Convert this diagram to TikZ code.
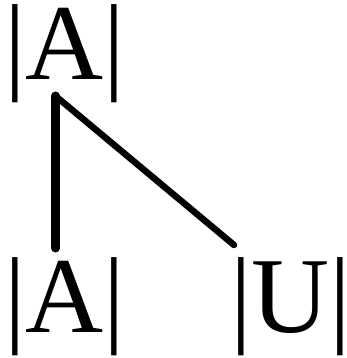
\documentclass[tikz,border=0pt]{standalone}
\usepackage{fontspec}
\setmainfont{Liberation Serif}
\begin{document}
\begin{tikzpicture}[x=1pt,y=-1pt,
  lab/.style={inner sep=0pt, font=\fontsize{108}{112}\selectfont, anchor=base west},
  edge/.style={line cap=round, line join=round}]
\useasboundingbox (0,0) rectangle (347,358);
\node[lab] (ta) at (4,80) {|A|};
\node[lab] (ba) at (4,332) {|A|};
\node[lab] (bu) at (230,332) {|U|};
\coordinate (apex) at (55.5,96);
\coordinate (endA) at (55.5,248);
\coordinate (endU) at (234,245);
\draw[edge, line width=9pt] (apex) -- (endA);
\draw[edge, line width=6.5pt] (apex) -- (endU);
\end{tikzpicture}
\end{document}
